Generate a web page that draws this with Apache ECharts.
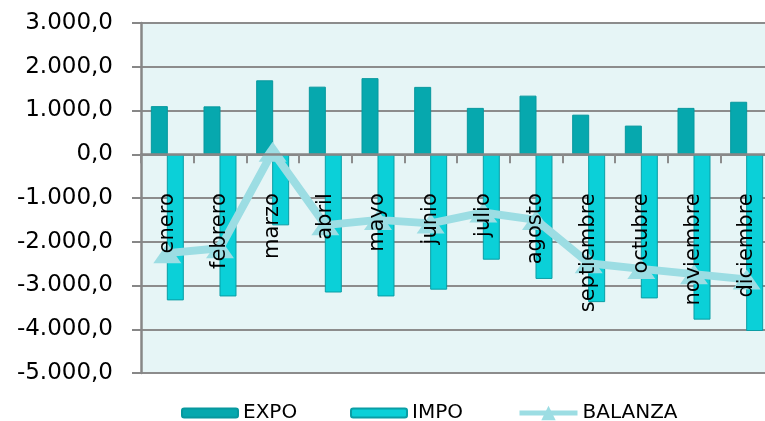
<!DOCTYPE html>
<html>
<head>
<meta charset="utf-8">
<script src="https://cdn.jsdelivr.net/npm/echarts@6/dist/echarts.min.js"></script>
<style>
html,body{margin:0;padding:0;background:#fff;}
#c{width:765px;height:421px;}
</style>
</head>
<body>
<div id="c"></div>
<script>
var months = ['enero','febrero','marzo','abril','mayo','junio','julio','agosto','septiembre','octubre','noviembre','diciembre'];
var expo = [1100, 1095, 1690, 1545, 1740, 1540, 1060, 1340, 905, 655, 1060, 1200];
var impo = [-3340, -3250, -1625, -3160, -3250, -3095, -2410, -2850, -3380, -3295, -3780, -4040];
var balanza = [-2260, -2150, 60, -1620, -1500, -1580, -1330, -1500, -2490, -2620, -2740, -2860];
var yTicks = {min: -5000, max: 3000, interval: 1000};

function fmt(v){
  var neg = v < 0; var a = Math.abs(v);
  var s = String(Math.round(a)).replace(/\B(?=(\d{3})+(?!\d))/g, '.');
  return (neg ? '-' : '') + s + ',0';
}

var chart = echarts.init(document.getElementById('c'));
var font = 'DejaVu Sans';
var gridTop = 23, gridBottom = 48, H = 421;
var plotH = H - gridTop - gridBottom;
var zeroOffset = -plotH * (0 - yTicks.min) / (yTicks.max - yTicks.min);
var legendBase = {
  top: 397, itemGap: 0,
  textStyle: {fontFamily: font, fontSize: 20, color: '#000', lineHeight: 22},
  selectedMode: false
};
chart.setOption({
  animation: false,
  grid: {left: 141, top: gridTop, right: -8, bottom: gridBottom, show: true, backgroundColor: '#E6F5F6', borderWidth: 0, containLabel: false, outerBoundsMode: 'none'},
  legend: [
    Object.assign({}, legendBase, {data: ['EXPO'], left: 176, itemWidth: 56, itemHeight: 9}),
    Object.assign({}, legendBase, {data: ['IMPO'], left: 345, itemWidth: 56, itemHeight: 9}),
    Object.assign({}, legendBase, {data: ['BALANZA'], left: 512, itemWidth: 58, itemHeight: 18, lineStyle: {width: 5}})
  ],
  xAxis: [{
    type: 'category', data: months, z: 10,
    axisLine: {onZero: true, lineStyle: {color: '#878787', width: 2.5}},
    axisTick: {show: true, interval: 0, length: 9, lineStyle: {color: '#8C8C8C', width: 2}},
    axisLabel: {show: false},
    splitLine: {show: false}
  }, {
    type: 'category', data: months, z: 11, position: 'bottom', offset: zeroOffset,
    axisLine: {show: false, onZero: false},
    axisTick: {show: false},
    axisLabel: {rotate: 90, interval: 0, margin: 39, padding: [11, 0, 0, 0], fontFamily: font, fontSize: 21, color: '#000'},
    splitLine: {show: false}
  }],
  yAxis: {
    type: 'value', min: yTicks.min, max: yTicks.max, interval: yTicks.interval,
    axisLine: {show: true, lineStyle: {color: '#878787', width: 2.5}},
    axisTick: {show: true, length: 9, lineStyle: {color: '#878787', width: 2}},
    axisLabel: {margin: 28, fontFamily: font, fontSize: 23, color: '#000', formatter: fmt},
    splitLine: {show: true, lineStyle: {color: '#8C8C8C', width: 2}}
  },
  series: [
    {name: 'EXPO', type: 'bar', data: expo, barWidth: 17, barGap: '-6%',
     itemStyle: {color: '#06A8AE', borderColor: '#07989E', borderWidth: 1}},
    {name: 'IMPO', type: 'bar', data: impo, barWidth: 17,
     itemStyle: {color: '#0BD0D8', borderColor: '#0A9EA5', borderWidth: 1}},
    {name: 'BALANZA', type: 'line', data: balanza, z: 5,
     lineStyle: {color: '#9CDDE3', width: 8},
     itemStyle: {color: '#9CDDE3'},
     symbol: 'triangle', symbolSize: [28, 20], showSymbol: true}
  ]
});
</script>
</body>
</html>
